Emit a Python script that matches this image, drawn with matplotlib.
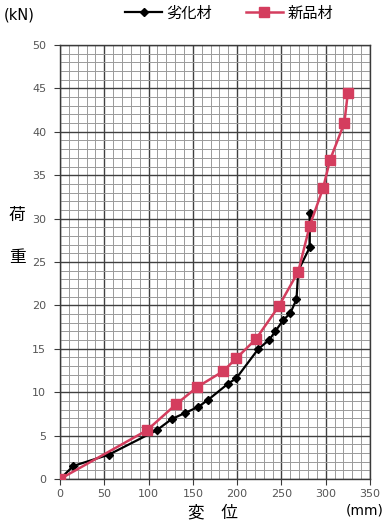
import matplotlib
matplotlib.use("Agg")
import matplotlib.pyplot as plt
from matplotlib.ticker import MultipleLocator

plt.rcParams['font.family'] = ['Noto Sans CJK JP', 'DejaVu Sans']

# Load-displacement data
deg_disp = [0, 15, 55, 109, 126, 141, 156, 167, 190, 199, 224, 236, 243, 252, 260, 267, 269, 282, 282]
deg_load = [0, 1.5, 2.8, 5.6, 6.9, 7.6, 8.3, 9.1, 11.0, 11.6, 15.0, 16.0, 17.0, 18.3, 19.1, 20.7, 24.0, 26.7, 30.6]
new_disp = [0, 98, 131, 155, 184, 199, 221, 247, 269, 282, 297, 305, 321, 325]
new_load = [0, 5.6, 8.6, 10.6, 12.4, 13.9, 16.1, 19.9, 23.9, 29.2, 33.5, 36.8, 41.0, 44.5]
series_names = ['劣化材', '新品材']
x_ticks = [0, 50, 100, 150, 200, 250, 300, 350]
y_ticks = [0, 5, 10, 15, 20, 25, 30, 35, 40, 45, 50]

red = '#d43d5e'

fig = plt.figure(figsize=(3.85, 5.26), dpi=100)
ax = fig.add_axes([0.156, 0.0894, 0.805, 0.825])

ax.set_xlim(0, 350)
ax.set_ylim(0, 50)
ax.xaxis.set_major_locator(MultipleLocator(50))
ax.xaxis.set_minor_locator(MultipleLocator(10))
ax.yaxis.set_major_locator(MultipleLocator(5))
ax.yaxis.set_minor_locator(MultipleLocator(1))
ax.grid(which='minor', color='#9a9a9a', lw=0.7)
ax.grid(which='major', color='#404040', lw=1.0)
ax.set_axisbelow(True)
for s in ax.spines.values():
    s.set_color('#3a3a3a')
    s.set_linewidth(1.0)

tick_font = dict(family=['Liberation Sans Narrow', 'DejaVu Sans'], size=8, color='#555555')
ax.set_xticks(x_ticks)
ax.set_yticks(y_ticks)
ax.set_xticklabels([str(v) for v in x_ticks], **tick_font)
ax.set_yticklabels([str(v) for v in y_ticks], **tick_font)
ax.tick_params(which='major', length=4, color='#3a3a3a', pad=3)
ax.tick_params(which='minor', length=0)
ax.tick_params(axis='y', pad=6)

l1, = ax.plot(deg_disp, deg_load, color='black', lw=1.6, marker='D', ms=4.5,
              label=series_names[0], zorder=3)
l2, = ax.plot(new_disp, new_load, color=red, lw=1.8, marker='s', ms=6.5,
              label=series_names[1], zorder=4)

fig.legend(handles=[l1, l2], loc='upper center', bbox_to_anchor=(0.595, 1.017),
           ncol=2, frameon=False, fontsize=11, handlelength=2.4,
           columnspacing=2.2, handletextpad=0.3)

fig.text(0.01, 0.963, '(kN)', fontsize=10.5, family=['Liberation Sans Narrow', 'DejaVu Sans'])
fig.text(0.045, 0.59, '荷', fontsize=12, ha='center', va='center')
fig.text(0.045, 0.51, '重', fontsize=12, ha='center', va='center')
fig.text(0.552, 0.024, '変　位', fontsize=12, ha='center', va='center')
fig.text(0.997, 0.03, '(mm)', fontsize=10, va='center', ha='right',
         family=['Liberation Sans Narrow', 'DejaVu Sans'])

fig.savefig('out.png', dpi=100)
